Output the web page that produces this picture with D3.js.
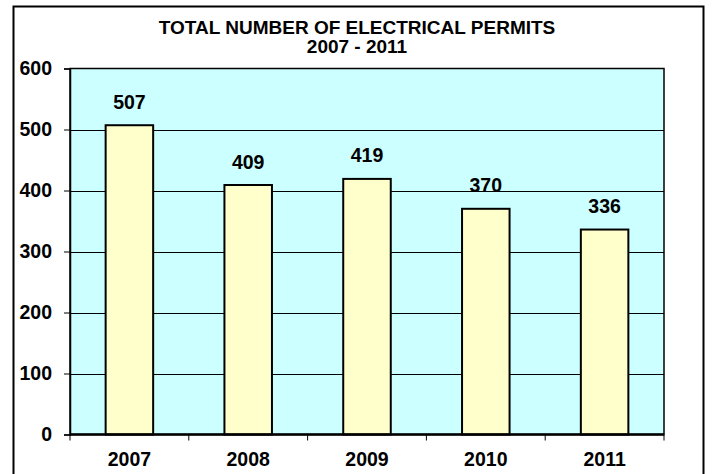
<!DOCTYPE html>
<html>
<head>
<meta charset="utf-8">
<script src="https://cdn.jsdelivr.net/npm/d3@7"></script>
<style>
  body { margin: 0; background: #fff; }
  svg { display: block; font-family: "Liberation Sans", Arial, sans-serif; }
</style>
</head>
<body>
<svg id="chart" width="714" height="474"></svg>
<script>
var years = ['2007', '2008', '2009', '2010', '2011'];
var permits = [507, 409, 419, 370, 336];
var yTicks = [0, 100, 200, 300, 400, 500, 600];
var titleLines = ['TOTAL NUMBER OF ELECTRICAL PERMITS', '2007 - 2011'];

var svg = d3.select('#chart');

var plotLeft = 70;
var plotRight = 664;
var plotTop = 68.5;
var plotBottom = 434.5;
var numFont = 19.5;

// outer frame (bottom runs off the page)
svg.append('rect')
  .attr('x', 13.5).attr('y', 6.5)
  .attr('width', 690).attr('height', 480)
  .attr('fill', '#fff').attr('stroke', '#000').attr('stroke-width', 2);

var x = d3.scaleBand().domain(years).range([plotLeft, plotRight]).paddingInner(0.6).paddingOuter(0.3);
var xCat = d3.scaleBand().domain(years).range([plotLeft, plotRight]);
var y = d3.scaleLinear().domain([0, 600]).range([plotBottom, plotTop]);

// plot area
svg.append('rect')
  .attr('x', plotLeft).attr('y', plotTop)
  .attr('width', plotRight - plotLeft).attr('height', plotBottom - plotTop)
  .attr('fill', '#ccffff').attr('stroke', '#000').attr('stroke-width', 1.5);

// gridlines
svg.append('g').selectAll('line')
  .data(yTicks.filter(function(d) { return d > 0 && d < 600; }))
  .enter().append('line')
  .attr('x1', plotLeft).attr('x2', plotRight)
  .attr('y1', function(d) { return Math.round(y(d)) + 0.5; })
  .attr('y2', function(d) { return Math.round(y(d)) + 0.5; })
  .attr('stroke', '#000').attr('stroke-width', 1);

// y axis
var yAxis = svg.append('g')
  .attr('transform', 'translate(' + plotLeft + ',0)')
  .call(d3.axisLeft(y).tickValues(yTicks).tickSize(6).tickPadding(12));
yAxis.select('.domain').attr('stroke', '#000').attr('stroke-width', 1.5);
yAxis.selectAll('.tick line').attr('stroke', '#000');
yAxis.selectAll('.tick text')
  .attr('font-size', numFont).attr('font-weight', 'bold').attr('fill', '#000')
  .attr('font-family', '"Liberation Sans", Arial, sans-serif');

// bars
svg.append('g').selectAll('rect')
  .data(permits)
  .enter().append('rect')
  .attr('x', function(d, i) { return x(years[i]); })
  .attr('y', function(d) { return y(d); })
  .attr('width', x.bandwidth())
  .attr('height', function(d) { return plotBottom - y(d); })
  .attr('fill', '#ffffcc').attr('stroke', '#000').attr('stroke-width', 2);

// value labels
svg.append('g').selectAll('text')
  .data(permits)
  .enter().append('text')
  .attr('x', function(d, i) { return x(years[i]) + x.bandwidth() / 2; })
  .attr('y', function(d) { return y(d) - 16.5; })
  .attr('text-anchor', 'middle')
  .attr('font-size', numFont).attr('font-weight', 'bold')
  .text(function(d) { return d; });

// x axis
var xAxisG = svg.append('g')
  .attr('transform', 'translate(0,' + plotBottom + ')');
xAxisG.append('line')
  .attr('x1', plotLeft).attr('x2', plotRight)
  .attr('stroke', '#000').attr('stroke-width', 2.5);
xAxisG.selectAll('.xtick')
  .data(years.concat(['end']))
  .enter().append('line')
  .attr('x1', function(d, i) { return i < years.length ? xCat(d) : plotRight; })
  .attr('x2', function(d, i) { return i < years.length ? xCat(d) : plotRight; })
  .attr('y1', 0).attr('y2', 6)
  .attr('stroke', '#000');
xAxisG.selectAll('text')
  .data(years)
  .enter().append('text')
  .attr('x', function(d) { return xCat(d) + xCat.bandwidth() / 2; })
  .attr('y', 31.5)
  .attr('text-anchor', 'middle')
  .attr('font-size', numFont).attr('font-weight', 'bold')
  .text(function(d) { return d; });

// title
svg.append('g').selectAll('text')
  .data(titleLines)
  .enter().append('text')
  .attr('x', 357)
  .attr('y', function(d, i) { return 34 + i * 19; })
  .attr('text-anchor', 'middle')
  .attr('font-size', 19).attr('font-weight', 'bold')
  .text(function(d) { return d; });
</script>
</body>
</html>
